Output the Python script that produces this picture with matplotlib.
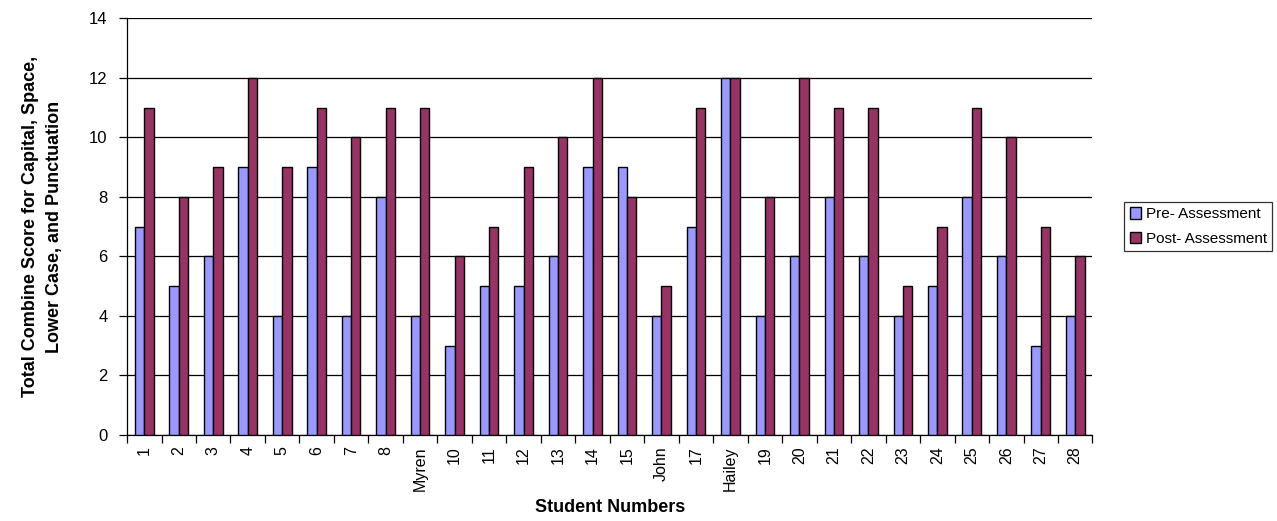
import numpy as np
import matplotlib.pyplot as plt

plt.rcParams['font.family'] = ['Liberation Sans', 'DejaVu Sans']

students = ['1', '2', '3', '4', '5', '6', '7', '8', 'Myren', '10', '11', '12', '13', '14',
            '15', 'John', '17', 'Hailey', '19', '20', '21', '22', '23', '24', '25', '26', '27', '28']
pre = [7, 5, 6, 9, 4, 9, 4, 8, 4, 3, 5, 5, 6, 9, 9, 4, 7, 12, 4, 6, 8, 6, 4, 5, 8, 6, 3, 4]
post = [11, 8, 9, 12, 9, 11, 10, 11, 11, 6, 7, 9, 10, 12, 8, 5, 11, 12, 8, 12, 11, 11, 5, 7, 11, 10, 7, 6]

fig = plt.figure(figsize=(12.77, 5.21), dpi=100)
ax = fig.add_axes([0.0995, 0.165, 0.756, 0.8])

x = np.arange(len(students))
w = 0.27
ax.bar(x - w / 2, pre, w, color='#9999FF', edgecolor='black', linewidth=1,
       label='Pre- Assessment', zorder=3)
ax.bar(x + w / 2, post, w, color='#993366', edgecolor='black', linewidth=1,
       label='Post- Assessment', zorder=3)

ax.set_xlim(-0.5, len(students) - 0.5)
ax.set_ylim(0, 14)
ax.set_yticks(range(0, 15, 2))
ax.yaxis.grid(True, color='black', linewidth=0.9)
ax.set_axisbelow(True)

ax.set_xticks(x)
ax.set_xticklabels(students, rotation=90, fontsize=11.5)
ax.set_xticks(np.arange(-0.5, len(students)), minor=True)
ax.tick_params(axis='x', which='major', length=0, pad=8)
ax.tick_params(axis='x', which='minor', length=6, width=0.9)
ax.tick_params(axis='y', length=6, width=0.9, labelsize=12, pad=8)

for s in ['top', 'right']:
    ax.spines[s].set_visible(False)
for s in ['left', 'bottom']:
    ax.spines[s].set_linewidth(0.9)

ax.set_xlabel('Student Numbers', fontsize=13, fontweight='bold', labelpad=6)
ax.set_ylabel('Total Combine Score for Capital, Space,\nLower Case, and Punctuation',
              fontsize=13, fontweight='bold', linespacing=1.6)
ax.yaxis.set_label_coords(-0.066, 0.5)

leg = ax.legend(loc='center left', bbox_to_anchor=(1.033, 0.5), borderaxespad=0,
                fontsize=11, frameon=True, fancybox=False, edgecolor='black',
                handlelength=0.75, handleheight=0.75, handletextpad=0.3,
                borderpad=0.35, labelspacing=0.7)
leg.get_frame().set_linewidth(0.9)

fig.savefig('out.png', dpi=100)
